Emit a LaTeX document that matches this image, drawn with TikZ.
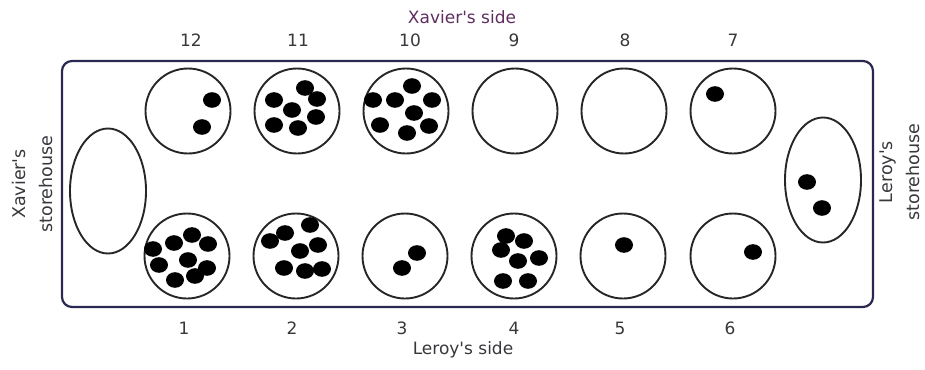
\documentclass[tikz,border=0pt]{standalone}
\usepackage{fontspec}
\setmainfont{DejaVu Sans}
\usepackage{xcolor}
\usepackage{tikz}
\usetikzlibrary{shapes.geometric, positioning}

\definecolor{boardline}{RGB}{40,40,80}
\definecolor{sidetext}{RGB}{95,45,95}
\definecolor{numtext}{RGB}{55,55,60}

\begin{document}
\begin{tikzpicture}[
  x=1pt, y=-1pt,
  board/.style={draw=boardline, line width=2.2pt, rounded corners=10pt},
  pit/.style={circle, draw=black!85, line width=1.9pt, minimum size=85pt, inner sep=0pt},
  store/.style={ellipse, draw=black!85, line width=1.9pt, minimum width=76pt, minimum height=125pt, inner sep=0pt},
  seed/.style={fill=black},
  num/.style={text=numtext, font=\fontsize{17}{20}\selectfont},
  sidelabel/.style={font=\fontsize{17}{20}\selectfont},
  storelabel/.style={text=numtext, align=center, rotate=90, font=\fontsize{17.5}{27}\selectfont}
]
\useasboundingbox (0,0) rectangle (925,369);

% board
\draw[board] (62,61) rectangle (873,307);

% pits
\foreach \i/\x in {12/188,11/297,10/406,9/515,8/624,7/733}
  \node[pit] (pit\i) at (\x,111) {};
\foreach \i/\x in {1/187,2/296,3/405,4/514,5/623,6/733}
  \node[pit] (pit\i) at (\x,256) {};

% storehouses
\node[store] (xstore) at (108,191) {};
\node[store] (lstore) at (823,180) {};

% seeds
\foreach \p in {(212,100),(202,127),
                (274,100),(305,88),(317,99),(292,110),(316,117),(274,125),(298,128),
                (412,86),(373,100),(395,100),(432,100),(414,113),(380,125),(429,126),(407,133),
                (715,94),
                (192,235),(174,243),(153,249),(208,244),(188,260),(159,265),(207,268),(175,280),(195,276),
                (310,225),(285,233),(270,241),(318,245),(300,251),(284,268),(305,271),(322,269),
                (417,253),(402,268),
                (506,236),(524,241),(501,250),(518,261),(539,258),(503,281),(528,281),
                (624,245),(753,252),
                (807,182),(822,208)}
  \fill[seed] \p ellipse [x radius=9pt, y radius=7.8pt];

% numbers
\foreach \i/\x in {12/191,11/298,10/410,9/514,8/625,7/733}
  \node[num] (n\i) at (\x,40) {\i};
\foreach \i/\x in {1/184,2/292,3/402,4/514,5/620,6/730}
  \node[num] (n\i) at (\x,328) {\i};

% side labels
\node[sidelabel, text=sidetext] (xside) at (462,17) {Xavier\textquotesingle s side};
\node[sidelabel, text=numtext] (lside) at (463,350) {Leroy\textquotesingle s side};
\node[storelabel] (xstorelabel) at (32,184) {Xavier\textquotesingle s\\storehouse};
\node[storelabel] (lstorelabel) at (900,172) {Leroy\textquotesingle s\\storehouse};
\end{tikzpicture}
\end{document}
